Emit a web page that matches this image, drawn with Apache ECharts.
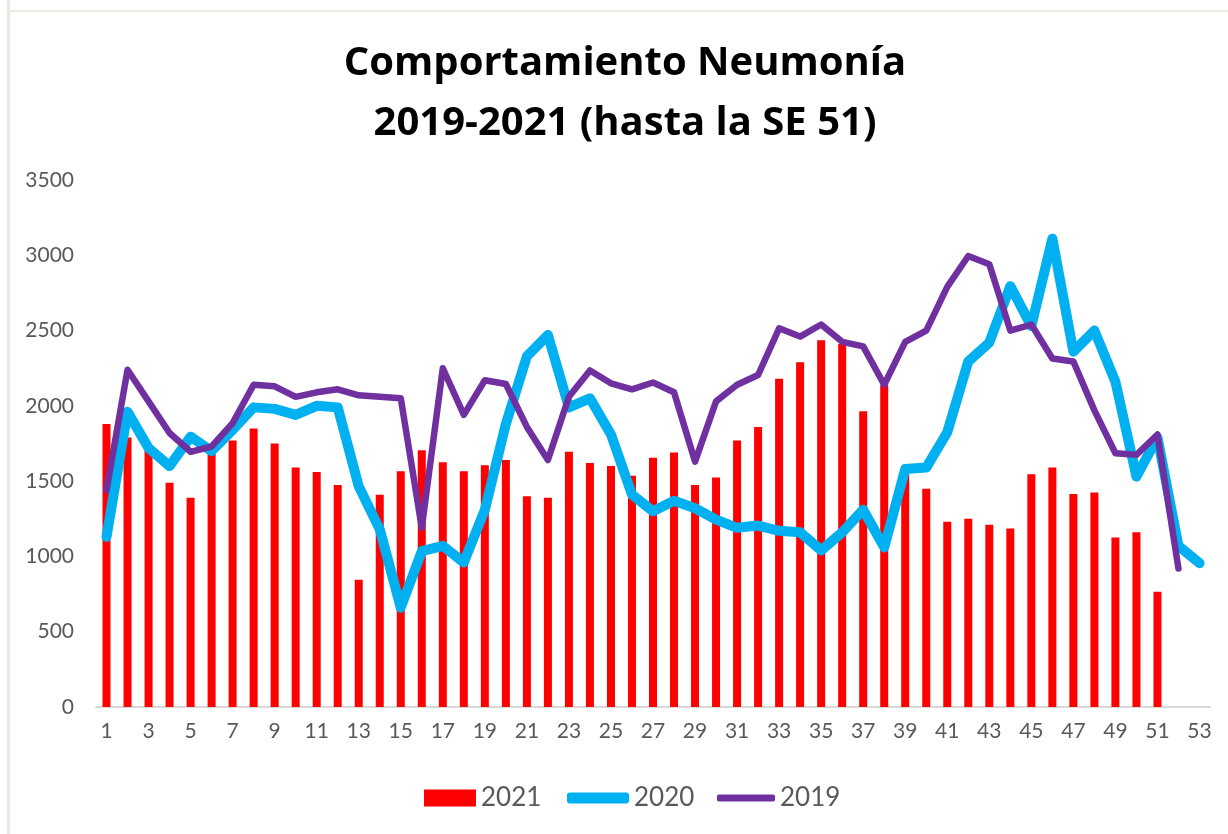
<!DOCTYPE html>
<html>
<head>
<meta charset="utf-8">
<script src="https://cdn.jsdelivr.net/npm/echarts@6/dist/echarts.min.js"></script>
<style>
  html, body { margin: 0; padding: 0; background: #fff; }
  #chart { width: 1228px; height: 834px; }
</style>
</head>
<body>
<div id="chart"></div>
<script>
// semanas epidemiologicas 1..53
const weeks = []
for (let i = 1; i <= 53; i++) weeks.push(String(i))

// 2021 (barras) hasta la SE 51
const data2021 = [1880, 1790, 1700, 1490, 1390, 1700, 1770, 1850, 1750, 1590,
  1560, 1475, 845, 1410, 1565, 1705, 1625, 1565, 1605, 1640,
  1400, 1390, 1695, 1620, 1600, 1535, 1655, 1690, 1475, 1525,
  1770, 1860, 2180, 2290, 2435, 2410, 1965, 2140, 1600, 1450,
  1230, 1250, 1210, 1185, 1545, 1590, 1415, 1425, 1125, 1160,
  765, null, null]

// 2020
const data2020 = [1130, 1960, 1720, 1600, 1795, 1700, 1840, 1990, 1980, 1940,
  2000, 1990, 1465, 1180, 660, 1035, 1070, 960, 1310, 1880,
  2330, 2470, 1990, 2050, 1810, 1410, 1300, 1370, 1320, 1245,
  1190, 1205, 1170, 1160, 1040, 1160, 1310, 1060, 1580, 1590,
  1825, 2295, 2420, 2795, 2530, 3110, 2360, 2500, 2160, 1530,
  1790, 1070, 955]

// 2019
const data2019 = [1440, 2240, 2030, 1820, 1695, 1730, 1885, 2140, 2130, 2060,
  2090, 2110, 2070, 2060, 2050, 1190, 2250, 1940, 2170, 2145,
  1860, 1640, 2060, 2235, 2150, 2110, 2155, 2090, 1630, 2030,
  2140, 2205, 2515, 2460, 2540, 2425, 2395, 2140, 2425, 2500,
  2790, 2995, 2940, 2500, 2540, 2315, 2295, 1970, 1685, 1675,
  1810, 920, null]

const chart = echarts.init(document.getElementById('chart'))
const font = 'Lato, "Open Sans", sans-serif'
const legendText = { fontSize: 26, color: '#595959', fontFamily: font }

chart.setOption({
  backgroundColor: '#fff',
  animation: false,
  title: {
    text: 'Comportamiento Neumonía\n2019-2021 (hasta la SE 51)',
    left: 620,
    top: 29,
    textAlign: 'center',
    textStyle: {
      fontSize: 40,
      fontWeight: 'bold',
      color: '#000',
      lineHeight: 60,
      fontFamily: '"Open Sans", sans-serif'
    }
  },
  graphic: [
    { type: 'rect', shape: { x: 7, y: 0, width: 3, height: 834 }, style: { fill: '#ebe9e0' } },
    { type: 'rect', shape: { x: 7, y: 10, width: 1221, height: 2 }, style: { fill: '#ebe9e0' } }
  ],
  legend: [
    {
      data: ['2021'], left: 419, top: 780, icon: 'rect',
      itemWidth: 52, itemHeight: 17, textStyle: legendText
    },
    {
      data: ['2020'], left: 562, top: 780, icon: 'roundRect',
      itemWidth: 62, itemHeight: 11, textStyle: legendText
    },
    {
      data: ['2019'], left: 712, top: 780, icon: 'roundRect',
      itemWidth: 58, itemHeight: 7, textStyle: legendText
    }
  ],
  grid: { left: 96, right: 18, top: 180, bottom: 127, containLabel: false },
  xAxis: {
    type: 'category',
    data: weeks,
    boundaryGap: true,
    axisLine: { lineStyle: { color: '#d9d9d9', width: 2 } },
    axisTick: { show: false },
    axisLabel: { interval: 1, color: '#595959', fontSize: 21, margin: 14, fontFamily: font }
  },
  yAxis: {
    type: 'value',
    min: 0,
    max: 3500,
    interval: 500,
    splitLine: { show: false },
    axisLine: { show: false },
    axisTick: { show: false },
    axisLabel: {
      color: '#595959', fontSize: 21, margin: 22, fontFamily: font,
      formatter: v => String(v)
    }
  },
  series: [
    {
      name: '2021',
      type: 'bar',
      data: data2021,
      barWidth: 8,
      itemStyle: { color: '#ff0000' }
    },
    {
      name: '2020',
      type: 'line',
      data: data2020,
      showSymbol: false,
      symbol: 'none',
      itemStyle: { color: '#00b0f0' },
      lineStyle: { color: '#00b0f0', width: 10, cap: 'round', join: 'round' }
    },
    {
      name: '2019',
      type: 'line',
      data: data2019,
      showSymbol: false,
      symbol: 'none',
      itemStyle: { color: '#7030a0' },
      lineStyle: { color: '#7030a0', width: 6.5, cap: 'round', join: 'round' }
    }
  ]
})
</script>
</body>
</html>
